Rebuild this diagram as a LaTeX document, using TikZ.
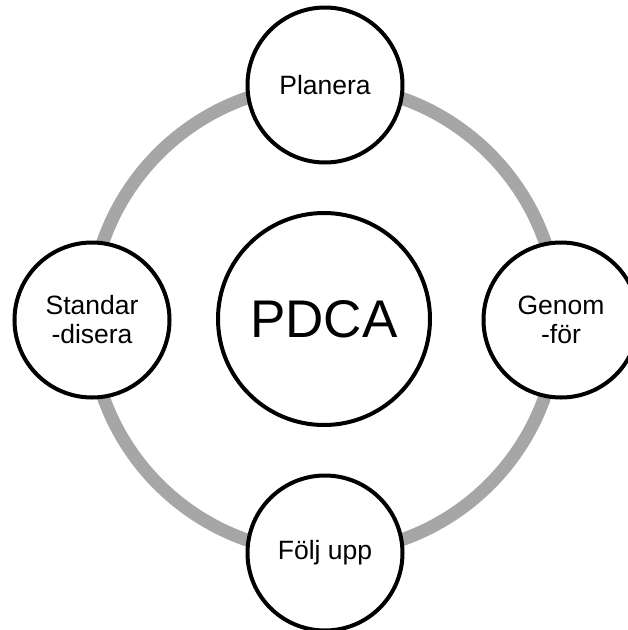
\documentclass[tikz,border=0pt]{standalone}
\usepackage{fontspec}
\setmainfont{Liberation Sans}
\begin{document}
\begin{tikzpicture}[x=1pt,y=-1pt,
  stage/.style={circle,draw=black,line width=4pt,fill=white,minimum size=155pt,inner sep=0pt,align=center,font=\fontsize{26.5}{29}\selectfont},
  core/.style={circle,draw=black,line width=4pt,fill=white,minimum size=212pt,inner sep=0pt,font=\fontsize{53}{60}\selectfont},
  ring/.style={draw={rgb,255:red,166;green,166;blue,166},line width=13pt}]
\useasboundingbox (0,0) rectangle (628,630);
\coordinate (c) at (324,319);
\draw[ring] (c) circle[radius=234];
\node[core] (pdca) at (c) {PDCA};
\node[stage] (plan) at (325,85) {Planera};
\node[stage] (do) at (561,320) {Genom\\-för};
\node[stage] (check) at (325,553) {Följ upp};
\node[stage] (act) at (92,320) {Standar\\-disera};
\end{tikzpicture}
\end{document}
